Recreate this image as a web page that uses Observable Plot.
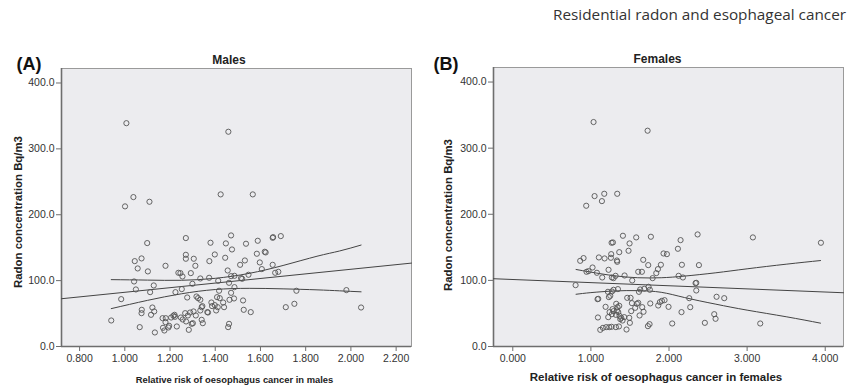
<!DOCTYPE html>
<html>
<head>
<meta charset="utf-8">
<script src="https://cdn.jsdelivr.net/npm/d3@7"></script>
<script src="https://cdn.jsdelivr.net/npm/@observablehq/plot@0.6"></script>
<style>
  html, body { margin: 0; padding: 0; background: #fff; }
  #page { position: relative; width: 853px; height: 386px; overflow: hidden; background: #fff; }
  .lbl { position: absolute; white-space: nowrap; line-height: 1; color: #222;
         font-family: "Liberation Sans", Arial, sans-serif; transform: translate(-50%, -50%); }
  .plotbox { position: absolute; top: 0; }
</style>
</head>
<body>
<div id="page"></div>
<script>
// ---------- Data ----------
const title = "Residential radon and esophageal cancer";
const panelLetters = ["(A)", "(B)"];
const panelTitles = ["Males", "Females"];
const yLabel = "Radon concentration Bq/m3";
const xLabels = ["Relative risk of oesophagus cancer in males", "Relative risk of oesophagus cancer in females"];

const radonTicks = [0, 100, 200, 300, 400];
const maleTicks = [0.8, 1.0, 1.2, 1.4, 1.6, 1.8, 2.0, 2.2];
const femaleTicks = [0, 1, 2, 3, 4];

const maleDomainX = [0.72, 2.268];
const femaleDomainX = [-0.247, 4.234];
const radonDomain = [0, 422];

// Males: relative risk vs radon
const maleRR = [1.007,1.458,1.001,1.038,1.109,1.424,1.566,1.099,1.270,1.379,1.447,1.470,1.654,1.656,1.690,1.588,1.536,1.474,1.398,1.270,1.270,1.305,1.044,1.074,1.057,1.102,1.180,1.312,1.374,1.444,1.531,1.584,1.619,1.623,1.597,1.510,1.654,1.606,1.665,1.679,1.455,1.237,1.246,1.255,1.292,1.334,1.373,1.413,1.470,1.485,1.461,1.514,1.519,1.547,1.041,1.049,1.128,1.112,0.984,0.940,1.224,1.252,1.299,1.276,1.317,1.324,1.334,1.417,1.470,1.485,1.483,1.408,1.420,1.435,1.383,1.386,1.398,1.463,1.523,1.334,1.340,1.343,1.365,1.404,1.411,1.526,1.557,1.712,1.750,1.759,1.980,2.045,1.075,1.074,1.122,1.130,1.116,1.066,1.133,1.167,1.180,1.181,1.169,1.175,1.193,1.196,1.205,1.215,1.220,1.222,1.230,1.248,1.256,1.267,1.271,1.279,1.283,1.289,1.296,1.301,1.304,1.314,1.340,1.345,1.368,1.461,1.457,1.439];
const maleRadon = [339,326,212.7,226.8,219.7,230.9,230.9,157,164.6,157.5,156.5,168.6,165,166,167.6,160.5,156,147.3,139.7,139.2,133.2,133.2,129.6,133.7,118.5,114,122.5,122.5,129.6,134.7,130.6,140.8,143.8,142.8,127.6,124,124,117.5,111.9,113.4,115.4,111.9,111.4,106.3,111.4,103.3,104.3,99.7,106.8,107.3,96.7,103.8,102.8,108.9,98.7,86.6,92.7,82.5,71.9,39.5,82.5,87.1,95.2,74.4,75.9,73.4,70.9,84.6,81.5,90.1,72.9,74.9,73.4,66.8,66.8,61.3,62.8,70.9,69.9,54.7,59.7,61.3,52.2,54.7,59.7,55.7,52.2,59.7,64.8,84.6,85.6,59.2,55.7,50.6,59.2,53.2,48.1,29.4,21.3,43,37,43,28.4,24.3,28.9,31.4,44,46.6,48.1,45.1,30.4,44,41,50.6,38,47.1,25.3,51.6,34.4,35.4,53.2,47.1,40.5,35.4,51.6,34.4,29.4,59.7];

// Females: relative risk vs radon
const femaleRR = [1.034,1.726,0.940,1.047,1.171,1.337,1.141,1.410,1.580,1.768,2.366,3.074,3.945,1.265,1.282,1.495,2.148,1.482,1.363,1.260,1.930,1.973,2.114,1.256,1.333,1.337,1.102,1.175,0.863,0.906,1.021,0.970,0.944,1.077,1.145,1.226,1.269,1.290,1.316,1.431,1.529,1.670,1.606,1.653,1.734,1.790,1.837,1.858,1.896,2.165,2.383,2.123,2.178,2.340,2.349,2.349,2.259,2.272,2.609,2.707,2.579,2.596,2.459,3.168,2.041,2.160,1.994,1.943,1.909,1.883,1.862,1.760,0.804,1.085,1.094,1.090,1.120,1.154,1.188,1.196,1.218,1.230,1.248,1.269,1.290,1.346,1.235,1.265,1.320,1.359,1.222,1.239,1.269,1.277,1.290,1.320,1.324,1.333,1.341,1.350,1.363,1.367,1.376,1.388,1.405,1.427,1.456,1.465,1.491,1.499,1.516,1.525,1.567,1.589,1.606,1.615,1.623,1.631,1.657,1.674,1.683,1.738,1.755,1.730,1.751,1.508];
const femaleRadon = [339.5,326.4,212.9,227.5,231,231,219.9,167.5,165,166,169.5,165,156.9,156.9,157.4,155.9,160.9,144.8,142.7,139.7,140.7,139.7,147.8,134.2,130.1,128.1,134.7,133.2,129.6,133.7,119.5,114,113,111.5,104.4,116,104.4,103.4,106.9,107.4,99.9,131.1,113,113,123.1,103.4,111,117,123.6,123.6,123.1,106.9,104.4,95.8,96.3,84.7,73.1,59.5,75.2,73.1,48.9,41.9,35.8,34.8,34.8,52,60,70.1,69.1,67.1,62,65.1,92.8,71.6,72.1,43.9,25.2,28.2,60,29.3,82.7,74.7,76.7,83.2,85.8,86.8,29.3,29.8,29.3,30.3,44.4,52,48.9,56.5,53.5,47.9,64.6,54.5,59.5,52,61.5,46.4,41.4,43.4,39.3,44.4,25.7,73.6,43.4,35.8,53.5,65.6,58.5,64.6,66.1,82.7,46.9,86.3,59.5,52.5,87.3,90.3,85.8,30.8,33.8,73.6];

// Fit lines and 95% confidence curves
const maleFitX = [0.72, 2.268];
const maleFitY = [72.5, 126.6];
const maleCiX = [0.94, 1.1, 1.25, 1.4, 1.55, 1.7, 1.85, 1.95, 2.045];
const maleUpper = [101.5, 100.8, 100.5, 103.5, 111, 123, 137, 145, 154];
const maleLower = [57.5, 70, 80, 86.5, 88.3, 87.5, 86, 84.5, 83];

const femaleFitX = [-0.247, 4.234];
const femaleFitY = [102.5, 81.3];
const femaleCiX = [0.81, 1.0, 1.3, 1.6, 1.9, 2.2, 2.6, 3.0, 3.5, 3.94];
const femaleUpper = [116.5, 112.5, 107, 104, 104, 106.5, 111.5, 117.5, 124.5, 130];
const femaleLower = [79, 81.5, 84, 84.5, 82, 74, 64, 55, 45, 35.3];

// ---------- Build ----------
const page = document.getElementById("page");

function addLabel(text, x, y, css) {
  const d = document.createElement("div");
  d.className = "lbl";
  d.textContent = text;
  d.style.left = x + "px";
  d.style.top = y + "px";
  Object.assign(d.style, css || {});
  page.appendChild(d);
  return d;
}

function zip(xs, ys) { return xs.map((x, i) => ({x, y: ys[i]})); }

function panel({left, width, marginLeft, marginRight, marginTop, xDomain, xTicks, xFmt, pts, fitX, fitY, ciX, up, lo}) {
  const pointData = zip(pts[0], pts[1]);
  const fit = zip(fitX, fitY);
  const upper = zip(ciX, up);
  const lower = zip(ciX, lo);
  const chart = Plot.plot({
    width, height: 386,
    marginLeft, marginRight, marginTop, marginBottom: 40,
    style: {fontFamily: "'Liberation Sans', Arial, sans-serif", fontSize: "10.5px", color: "#333", background: "transparent", overflow: "visible"},
    x: {domain: xDomain, nice: false},
    y: {domain: radonDomain, nice: false},
    marks: [
      Plot.frame({fill: "#ececef", stroke: "#9a9a9a", strokeWidth: 1}),
      Plot.ruleX([xDomain[0]], {stroke: "#6e6e6e", strokeWidth: 1.6}),
      Plot.ruleY([radonDomain[0]], {stroke: "#6e6e6e", strokeWidth: 1.6}),
      Plot.axisX({ticks: xTicks, tickFormat: d3.format(xFmt), tickSize: 5, tickPadding: 3, label: null, stroke: "#6e6e6e"}),
      Plot.axisY({ticks: radonTicks, tickFormat: d3.format(".1f"), tickSize: 5, tickPadding: 2, label: null, stroke: "#6e6e6e"}),
      Plot.line(fit, {x: "x", y: "y", stroke: "#444", strokeWidth: 1}),
      Plot.line(upper, {x: "x", y: "y", stroke: "#444", strokeWidth: 1, curve: "natural"}),
      Plot.line(lower, {x: "x", y: "y", stroke: "#444", strokeWidth: 1, curve: "natural"}),
      Plot.dot(pointData, {x: "x", y: "y", r: 2.6, stroke: "#555", strokeWidth: 0.9, fill: "none"})
    ]
  });
  const box = document.createElement("div");
  box.className = "plotbox";
  box.style.left = left + "px";
  box.appendChild(chart);
  page.appendChild(box);
}

panel({left: 0, width: 426, marginLeft: 61, marginRight: 15, marginTop: 68,
  xDomain: maleDomainX, xTicks: maleTicks, xFmt: ".3f", pts: [maleRR, maleRadon],
  fitX: maleFitX, fitY: maleFitY, ciX: maleCiX, up: maleUpper, lo: maleLower});
panel({left: 426, width: 427, marginLeft: 67, marginRight: 10, marginTop: 67,
  xDomain: femaleDomainX, xTicks: femaleTicks, xFmt: ".3f", pts: [femaleRR, femaleRadon],
  fitX: femaleFitX, fitY: femaleFitY, ciX: femaleCiX, up: femaleUpper, lo: femaleLower});

// Texts
addLabel(title, 553, 15, {transform: "translate(0,-50%)", fontFamily: "'Open Sans', 'Noto Sans', sans-serif", fontSize: "15.3px", color: "#333"});
addLabel(panelLetters[0], 29, 64, {fontWeight: "bold", fontSize: "18px", color: "#111"});
addLabel(panelLetters[1], 446, 64, {fontWeight: "bold", fontSize: "18px", color: "#111"});
addLabel(panelTitles[0], 229, 60, {fontWeight: "bold", fontSize: "12px"});
addLabel(panelTitles[1], 657.5, 59, {fontWeight: "bold", fontSize: "12px"});
addLabel(yLabel, 19, 212, {fontWeight: "bold", fontSize: "11.4px", transform: "translate(-50%,-50%) rotate(-90deg)"});
addLabel(yLabel, 449, 215, {fontWeight: "bold", fontSize: "11.4px", transform: "translate(-50%,-50%) rotate(-90deg)"});
addLabel(xLabels[0], 234.5, 379.5, {fontWeight: "bold", fontSize: "9.4px"});
addLabel(xLabels[1], 656, 378, {fontWeight: "bold", fontSize: "11.5px"});
</script>
</body>
</html>
